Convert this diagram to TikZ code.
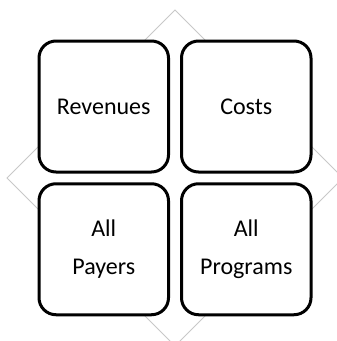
\documentclass[tikz,border=0pt]{standalone}
\usepackage{fontspec}
\setmainfont{Carlito}
\begin{document}
\begin{tikzpicture}[x=1pt,y=-1pt,
  tile/.style={draw=black, line width=3pt, fill=white, rounded corners=17pt,
    minimum width=129.5pt, minimum height=131pt, inner sep=0pt,
    align=center, font={\fontsize{24}{38}\selectfont}, text=black},
  frame/.style={draw={rgb,255:red,200;green,200;blue,200}, line width=0.8pt}]
  \useasboundingbox (0,0) rectangle (337,341);
  \clip (0,0) rectangle (337,341);
  % background diamond behind the four tiles
  \coordinate (dtop) at (175,10);
  \coordinate (dright) at (343,178);
  \coordinate (dbottom) at (175,346);
  \coordinate (dleft) at (7,178);
  \draw[frame] (dtop) -- (dright) -- (dbottom) -- (dleft) -- cycle;
  % the 2x2 grid of tiles
  \node[tile] (rev)  at (103.75,106.5) {Revenues};
  \node[tile] (cost) at (246.25,106.5) {Costs};
  \node[tile] (pay)  at (103.75,249.25) {All\\Payers};
  \node[tile] (prog) at (246.25,249.25) {All\\Programs};
\end{tikzpicture}
\end{document}
